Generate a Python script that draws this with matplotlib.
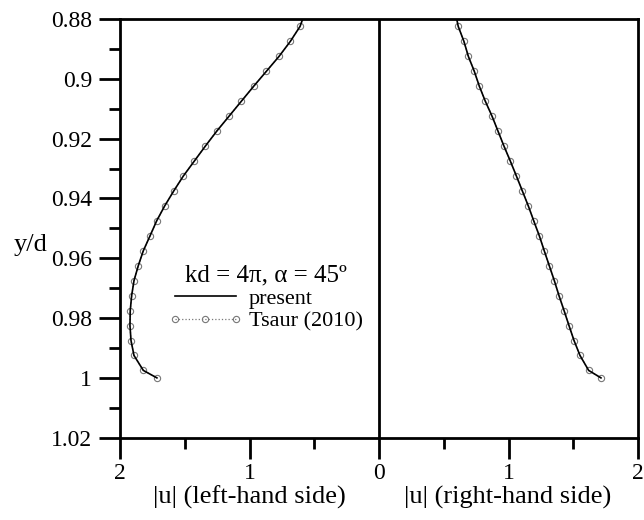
import matplotlib.pyplot as plt
from matplotlib.ticker import MultipleLocator, FixedLocator

plt.rcParams['font.family'] = ['Liberation Serif', 'DejaVu Serif']

# depth of the Tsaur (2010) sample points
y_tsaur = [0.8825, 0.8875, 0.8925, 0.8975, 0.9025, 0.9075, 0.9125, 0.9175,
           0.9225, 0.9275, 0.9325, 0.9375, 0.9425, 0.9475, 0.9525, 0.9575,
           0.9625, 0.9675, 0.9725, 0.9775, 0.9825, 0.9875, 0.9925, 0.9975, 1.0]
u_left_tsaur = [0.610, 0.685, 0.772, 0.870, 0.968, 1.063, 1.158, 1.253,
                1.341, 1.426, 1.511, 1.585, 1.655, 1.717, 1.768, 1.820,
                1.859, 1.892, 1.910, 1.921, 1.923, 1.915, 1.892, 1.820, 1.715]
u_right_tsaur = [0.612, 0.656, 0.690, 0.736, 0.775, 0.821, 0.873, 0.919,
                 0.965, 1.014, 1.061, 1.107, 1.153, 1.195, 1.238, 1.276,
                 1.315, 1.354, 1.390, 1.429, 1.467, 1.506, 1.552, 1.619, 1.714]

# present solution, starts at the top of the window
y_present = [0.88] + y_tsaur
u_left_present = [0.589] + u_left_tsaur
u_right_present = [0.600] + u_right_tsaur

xticks = [-2, -1, 0, 1, 2]
xtick_labels = ['2', '1', '0', '1', '2']
yticks = [0.88, 0.90, 0.92, 0.94, 0.96, 0.98, 1.00, 1.02]
ytick_labels = ['0.88', '0.9', '0.92', '0.94', '0.96', '0.98', '1', '1.02']

fig = plt.figure(figsize=(6.44, 5.20), dpi=100)
ax = fig.add_axes([120 / 644, 1 - 437.7 / 520, 518 / 644, 418.7 / 520])

# left-hand side drawn at negative x
ax.plot([-u for u in u_left_present], y_present, color='black', lw=1.2,
        label='present', zorder=3)
ax.plot(u_right_present, y_present, color='black', lw=1.2, zorder=3)
ax.plot([-u for u in u_left_tsaur], y_tsaur, ls=':', color='#777777', lw=0.9,
        marker='o', ms=4.5, mfc='none', mec='#777777', mew=0.8,
        label='Tsaur (2010)', zorder=2)
ax.plot(u_right_tsaur, y_tsaur, ls=':', color='#777777', lw=0.9,
        marker='o', ms=4.5, mfc='none', mec='#777777', mew=0.8, zorder=2)

ax.axvline(0, color='black', lw=2)

ax.set_xlim(-2, 2)
ax.set_ylim(1.02, 0.88)
ax.xaxis.set_major_locator(FixedLocator(xticks))
ax.set_xticklabels(xtick_labels)
ax.xaxis.set_minor_locator(MultipleLocator(0.5))
ax.yaxis.set_major_locator(FixedLocator(yticks))
ax.set_yticklabels(ytick_labels)
ax.yaxis.set_minor_locator(MultipleLocator(0.01))

ax.tick_params(which='major', direction='out', length=15, width=2,
               labelsize=17, pad=5)
ax.tick_params(axis='x', which='major', pad=3)
ax.tick_params(which='minor', direction='out', length=8, width=2)
for s in ax.spines.values():
    s.set_linewidth(2)

ax.set_ylabel('y/d', fontsize=19, rotation=0, va='center', ha='center')
ax.yaxis.set_label_coords(-0.172, 1 - (245 - 19) / 418.7)

fig.text(249 / 644, 1 - 497 / 520, '|u| (left-hand side)', ha='center',
         va='center', fontsize=19)
fig.text(508 / 644, 1 - 497 / 520, '|u| (right-hand side)', ha='center',
         va='center', fontsize=19)

leg = ax.legend(title='kd = 4\u03c0, \u03b1 = 45\u00ba', frameon=False,
                fontsize=16, title_fontsize=18, numpoints=3,
                handlelength=3.35, handletextpad=0.3, labelspacing=0.1,
                loc='upper left', bbox_to_anchor=(168 / 644, 1 - 264 / 520),
                bbox_transform=fig.transFigure, borderpad=0,
                borderaxespad=0)

fig.savefig('out.png', dpi=100)
